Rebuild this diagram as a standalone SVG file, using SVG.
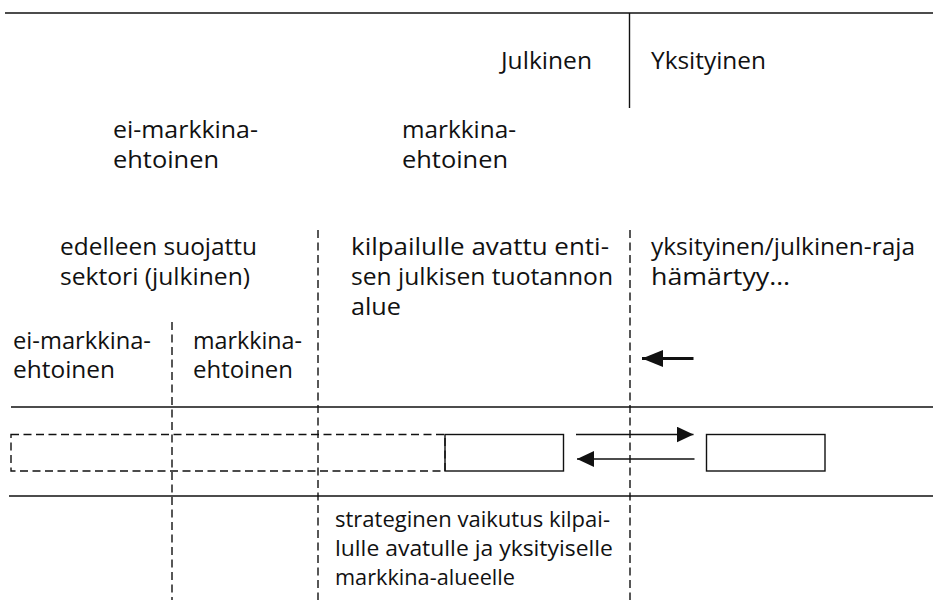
<svg xmlns="http://www.w3.org/2000/svg" width="933" height="604" viewBox="0 0 933 604">
<defs>
<style>
.t{font-family:"Open Sans","DejaVu Sans",sans-serif;font-size:23.5px;fill:#111}
.s{font-family:"Open Sans","DejaVu Sans",sans-serif;font-size:21px;fill:#111}
.solid{stroke:#111;stroke-width:1.4;fill:none}
.dash{stroke:#111;stroke-width:1.4;fill:none;stroke-dasharray:8 4.5}
.arr{stroke:#111;stroke-width:1.4}
</style>
<marker id="ah" viewBox="0 0 17 16" refX="17" refY="8" markerWidth="17" markerHeight="16" markerUnits="userSpaceOnUse" orient="auto">
<path d="M0,0 L17,8 L0,16 z" fill="#111"/>
</marker>
<marker id="ahb" viewBox="0 0 21 17" refX="21" refY="8.5" markerWidth="21" markerHeight="17" markerUnits="userSpaceOnUse" orient="auto">
<path d="M0,0 L21,8.5 L0,17 z" fill="#111"/>
</marker>
</defs>
<rect width="933" height="604" fill="#fff"/>
<g id="frame">
<line class="solid" x1="5" y1="13" x2="933" y2="13"/>
<line class="solid" x1="629.5" y1="13" x2="629.5" y2="108"/>
<line class="solid" x1="11" y1="407" x2="933" y2="407"/>
<line class="solid" x1="9" y1="496" x2="933" y2="496"/>
<line class="dash" x1="318" y1="230" x2="318" y2="600"/>
<line class="dash" x1="172" y1="322" x2="172" y2="600"/>
<line class="dash" x1="630" y1="230" x2="630" y2="600"/>
</g>
<g id="labels">
<text class="t" x="501" y="69" textLength="91" lengthAdjust="spacingAndGlyphs">Julkinen</text>
<text class="t" x="651" y="69" textLength="115" lengthAdjust="spacingAndGlyphs">Yksityinen</text>
<text class="t" x="113" y="138" textLength="145" lengthAdjust="spacingAndGlyphs">ei-markkina-</text>
<text class="t" x="113" y="168" textLength="106" lengthAdjust="spacingAndGlyphs">ehtoinen</text>
<text class="t" x="402" y="138" textLength="114" lengthAdjust="spacingAndGlyphs">markkina-</text>
<text class="t" x="402" y="168" textLength="106" lengthAdjust="spacingAndGlyphs">ehtoinen</text>
<text class="t" x="60" y="255" textLength="197" lengthAdjust="spacingAndGlyphs">edelleen suojattu</text>
<text class="t" x="60" y="285" textLength="190" lengthAdjust="spacingAndGlyphs">sektori (julkinen)</text>
<text class="t" x="351" y="255" textLength="258" lengthAdjust="spacingAndGlyphs">kilpailulle avattu enti-</text>
<text class="t" x="351" y="285" textLength="262" lengthAdjust="spacingAndGlyphs">sen julkisen tuotannon</text>
<text class="t" x="351" y="315" textLength="50" lengthAdjust="spacingAndGlyphs">alue</text>
<text class="t" x="651" y="255" textLength="264" lengthAdjust="spacingAndGlyphs">yksityinen/julkinen-raja</text>
<text class="t" x="651" y="285" textLength="139" lengthAdjust="spacingAndGlyphs">hämärtyy…</text>
<text class="t" x="13" y="349" textLength="138" lengthAdjust="spacingAndGlyphs">ei-markkina-</text>
<text class="t" x="13" y="378" textLength="102" lengthAdjust="spacingAndGlyphs">ehtoinen</text>
<text class="t" x="193" y="349" textLength="109" lengthAdjust="spacingAndGlyphs">markkina-</text>
<text class="t" x="193" y="378" textLength="100" lengthAdjust="spacingAndGlyphs">ehtoinen</text>
<text class="s" x="335" y="527" textLength="275" lengthAdjust="spacingAndGlyphs">strateginen vaikutus kilpai-</text>
<text class="s" x="335" y="556" textLength="278" lengthAdjust="spacingAndGlyphs">lulle avatulle ja yksityiselle</text>
<text class="s" x="335" y="585" textLength="180" lengthAdjust="spacingAndGlyphs">markkina-alueelle</text>
</g>
<g id="nodes">
<g id="dashed-box"><rect class="dash" x="11" y="434.5" width="434" height="36.5"/></g>
<g id="box-public"><rect class="solid" x="445" y="434.5" width="118.5" height="36.5"/></g>
<g id="box-private"><rect class="solid" x="706.5" y="434.5" width="118.5" height="36.5"/></g>
</g>
<g id="connectors">
<line stroke="#111" stroke-width="3" x1="693.5" y1="358.5" x2="642" y2="358.5" marker-end="url(#ahb)"/>
<line class="arr" x1="576" y1="434.5" x2="693.5" y2="434.5" marker-end="url(#ah)"/>
<line class="arr" x1="694.5" y1="459" x2="577" y2="459" marker-end="url(#ah)"/>
</g>
</svg>
